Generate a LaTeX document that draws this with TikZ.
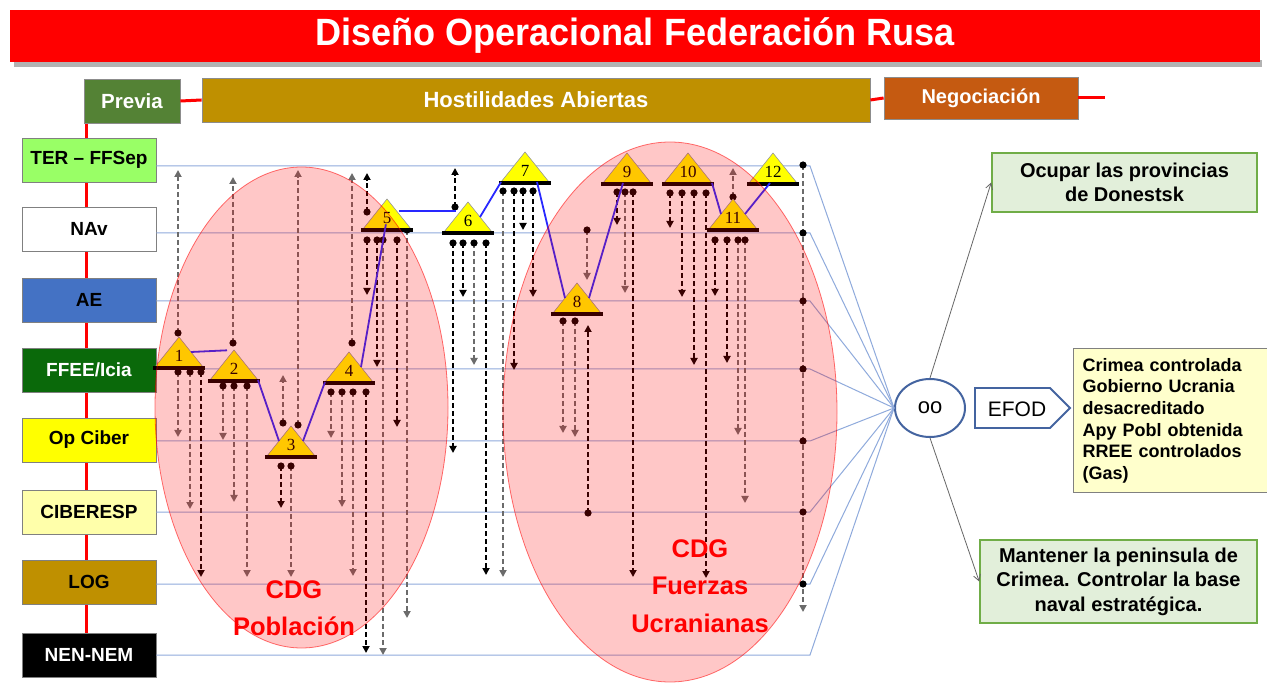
\documentclass[tikz,border=0pt]{standalone}
\usepackage{fontspec}
\setmainfont{Liberation Sans}
\newfontfamily\titlefont[FakeStretch=0.95]{Liberation Sans}
\newfontfamily\numfont{Liberation Serif}
\usepackage{xcolor}
\usetikzlibrary{arrows.meta,positioning,shapes.geometric}

\definecolor{previa}{RGB}{84,130,53}
\definecolor{hostil}{RGB}{191,144,0}
\definecolor{negoc}{RGB}{197,90,17}
\definecolor{terg}{RGB}{153,255,102}
\definecolor{aeblue}{RGB}{68,114,196}
\definecolor{ffee}{RGB}{10,105,10}
\definecolor{cibery}{RGB}{255,255,0}
\definecolor{ciberesp}{RGB}{255,255,170}
\definecolor{logg}{RGB}{191,144,0}
\definecolor{rowblue}{RGB}{143,170,220}
\definecolor{seqblue}{RGB}{40,40,255}
\definecolor{efodblue}{RGB}{68,100,160}
\definecolor{goalgreen}{RGB}{226,239,218}
\definecolor{goalborder}{RGB}{112,173,71}
\definecolor{endyellow}{RGB}{255,255,204}
\definecolor{triyellow}{RGB}{255,255,0}

% triangle of one operational step: number, apex x, base y
\newcommand{\optri}[3]{%
  \fill[triyellow, draw=black!40, line width=0.6pt] (#2-24,#3) -- (#2,#3-30) -- (#2+24,#3) -- cycle;
  \draw[line width=3.5pt, black] (#2-26,#3+1) -- (#2+26,#3+1);
  \coordinate (t#1a) at (#2,#3-30);
  \coordinate (t#1l) at (#2-12,#3-15);
  \coordinate (t#1r) at (#2+12,#3-15);
  \coordinate (t#1b) at (#2,#3);
  \coordinate (t#1bl) at (#2-24,#3);
  \coordinate (t#1br) at (#2+24,#3);
  \node[trinum] (t#1) at (#2,#3-11) {#1};
}

\begin{document}
\begin{tikzpicture}[x=1pt,y=-1pt]
      \tikzstyle{phase} = [draw=black!45, line width=0.8pt, text=white, font=\bfseries\fontsize{20}{24}\selectfont, minimum height=44pt, inner sep=0pt]
      \tikzstyle{lab} = [draw=black!50, line width=0.8pt, font=\bfseries\fontsize{19}{23}\selectfont, minimum width=134pt, minimum height=44pt, inner sep=0pt]
      \tikzstyle{spine} = [red, line width=3pt]
      \tikzstyle{rowline} = [rowblue, line width=1pt]
      \tikzstyle{seq} = [seqblue, line width=1.8pt]
      \tikzstyle{dep} = [line width=2.2pt, dash pattern=on 5pt off 3pt, -{Triangle[length=7pt,width=7pt]}]
      \tikzstyle{depk} = [dep, black]
      \tikzstyle{depm} = [dep, black!58]
      \tikzstyle{trinum} = [inner sep=0.5pt, font=\numfont\fontsize{17}{17}\selectfont]
      \tikzstyle{cdg} = [ellipse, fill=red, fill opacity=0.22, draw=red, draw opacity=0.55, line width=0.8pt, inner sep=0pt]
      \tikzstyle{cdglab} = [text=red, align=center, font=\bfseries\fontsize{25.5}{37.5}\selectfont]
      \tikzstyle{goal} = [draw=goalborder, line width=1.6pt, fill=goalgreen, align=center, font=\bfseries\fontsize{20}{24.5}\selectfont, inner sep=0pt]
      \tikzstyle{goalarrow} = [black!60, line width=0.8pt, -{Straight Barb[length=6pt,width=7pt]}]

      \useasboundingbox (0,0) rectangle (1267,684);
      \fill[white] (0,0) rectangle (1267,684);

      % title
      \fill[black!30] (14,60) rectangle (1262,67);
      \node[fill=red, minimum width=1250pt, minimum height=52pt, inner sep=0pt, text=white, font=\titlefont\bfseries\fontsize{38}{40}\selectfont] (title) at (635,36) {Diseño Operacional Federación Rusa};

      % phases and spine
      \coordinate (spinetop) at (86,101);
      \coordinate (spinebot) at (86,655);
      \coordinate (phaseend) at (1105,98);
      \draw[spine] (spinetop) -- (spinebot);
      \node[phase, fill=previa, minimum width=96pt, font=\bfseries\fontsize{20.5}{24}\selectfont] (previa) at (132,101) {Previa};
      \node[phase, fill=hostil, minimum width=668pt, font=\bfseries\fontsize{22}{26}\selectfont] (hostil) at (536,100) {Hostilidades Abiertas};
      \node[phase, fill=negoc, minimum width=194pt, minimum height=42pt] (negoc) at (981,98) {Negociación};
      \draw[spine] (previa.east) -- (hostil.west);
      \draw[spine] (hostil.east) -- (negoc.west);
      \draw[spine] (negoc.east) -- (phaseend);

      % lines of operation
      \node[lab, fill=terg] (ter) at (89,160) {TER – FFSep};
      \node[lab, fill=white] (nav) at (89,229) {NAv};
      \node[lab, fill=aeblue] (ae) at (89,300) {AE};
      \node[lab, fill=ffee, text=white] (ffee) at (89,370) {FFEE/Icia};
      \node[lab, fill=cibery] (opciber) at (89,440) {Op Ciber};
      \node[lab, fill=ciberesp] (ciberesp) at (89,512) {CIBERESP};
      \node[lab, fill=logg] (log) at (89,582) {LOG};
      \node[lab, fill=black, text=white] (nen) at (89,655) {NEN-NEM};

      \node[draw=efodblue, line width=2pt, ellipse, minimum width=70pt, minimum height=58pt, inner sep=0pt, font=\fontsize{22}{24}\selectfont] (oo) at (930,408) {oo};

      \foreach \lb/\y [count=\i] in {ter/166,nav/233,ae/301,ffee/369,opciber/441,ciberesp/512,log/584,nen/655}{
        \coordinate (re\i) at (810,\y);
        \draw[rowline] (\lb.east |- re\i) -- (re\i) -- (oo.west);
      }

      % effects between the lines
      \foreach \x/\ya/\yb/\st [count=\i] in {
        178/372/437/depm, 190/372/509/depm, 201/372/577/depk,
        223/386/440/depm, 234/386/502/depm, 247/386/577/depm,
        281/466/508/depk, 291/466/577/depm,
        331/392/438/depm, 342/392/507/depm, 353/392/576/depm, 366/392/653/depk,
        367/240/295/depk, 377/240/367/depk, 383/240/655/depm, 397/240/427/depk, 407/230/618/depm,
        453/243/453/depk, 463/243/297/depk, 474/243/365/depm, 486/243/575/depk,
        503/191/577/depm, 514/191/370/depk, 523/191/230/depk, 533/191/297/depk,
        563/321/433/depm, 575/321/437/depm,
        617/192/225/depk, 625/192/293/depm, 633/192/577/depk,
        670/193/228/depk, 682/193/297/depk, 694/193/365/depk, 706/193/578/depk,
        715/240/296/depk, 727/240/363/depk, 738/240/435/depm, 745/240/503/depm,
        587/230/280/depm,
        178/333/170/depm, 233/343/177/depm, 298/425/170/depm, 283/423/375/depm, 352/343/173/depm,
        367/212/173/depk, 455/207/168/depk, 588/513/325/depk, 733/197/168/depm,
        803/165/612/depm}{
        \coordinate (ds\i) at (\x,\ya);
        \coordinate (de\i) at (\x,\yb);
        \draw[\st] (ds\i) -- (de\i);
        \fill (ds\i) circle (3.6pt);
      }
      \foreach \y in {233,301,369,441,512,584}
        \fill (803,\y) circle (3.6pt);

      % steps
      \foreach \n/\x/\bs in {1/179/367, 2/234/380, 3/291/456, 4/349/382, 5/387/229, 6/468/232,
        7/525/182, 8/577/313, 9/627/183, 10/688/183, 11/733/229, 12/773/183}
        {\optri{\n}{\x}{\bs}}

      \draw[seq, shorten >=7pt] (t1r) -- (t2a);
      \draw[seq] (t2br) -- (t3l);
      \draw[seq] (t3r) -- (t4bl);
      \draw[seq] (t4r) -- (t5);
      \draw[seq] ([yshift=3pt]t5r) -- ([yshift=3pt]t5r -| t6l);
      \draw[seq] (t6r) -- (t7bl);
      \draw[seq] ([xshift=-12pt]t7br) -- (t8l);
      \draw[seq] (t8r) -- ([xshift=-4pt]t9b);
      \draw[seq] (t10br) -- (t11l);
      \draw[seq] (t11r) -- ([xshift=-3pt]t12b);

      % centres of gravity
      \node[cdg, minimum width=293pt, minimum height=481pt] (cdgpob) at (301.5,407.5) {};
      \node[cdg, minimum width=334pt, minimum height=540pt] (cdgfue) at (670,412) {};
      \node[cdglab] (lpob) at (294,608) {CDG\\Población};
      \node[cdglab] (lfue) at (700,586) {CDG\\Fuerzas\\Ucranianas};

      % end state
      \draw[efodblue, line width=1.8pt, fill=white] (975,388) -- (1050,388) -- (1070,408) -- (1050,428) -- (975,428) -- cycle;
      \node[font=\fontsize{21}{24}\selectfont] (efod) at (1017,409) {EFOD};
      \node[draw=black!50, line width=1.2pt, fill=endyellow, anchor=north west, text width=180pt, align=left, inner xsep=9pt, inner ysep=4pt, minimum height=144pt, font=\bfseries\fontsize{18}{21.7}\selectfont] (endstate) at (1073,348) {Crimea controlada\\Gobierno Ucrania\\desacreditado\\Apy Pobl obtenida\\RREE controlados\\(Gas)};

      \node[goal, minimum width=265pt, minimum height=59pt] (goal1) at (1124.5,182.5) {Ocupar las provincias\\de Donestsk};
      \node[goal, minimum width=277pt, minimum height=83pt] (goal2) at (1118.5,581.5) {Mantener la peninsula de\\Crimea. Controlar la base\\naval estratégica.};
      \draw[goalarrow] (oo.north) -- (goal1.west);
      \draw[goalarrow] (oo.south) -- (goal2.west);
\end{tikzpicture}
\end{document}
